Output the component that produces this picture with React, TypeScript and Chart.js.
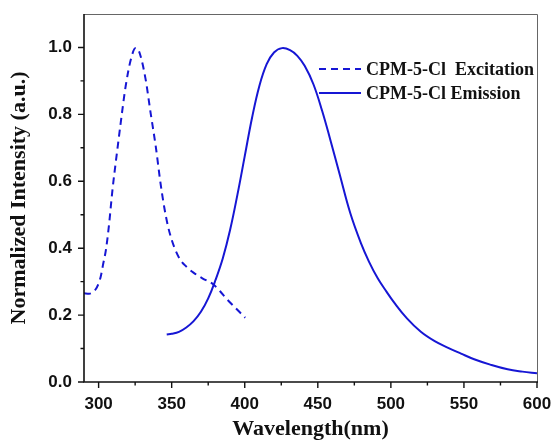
import React, { useEffect, useRef } from 'react';
import { Chart, registerables } from 'chart.js';

Chart.register(...registerables);

const excitationWavelength = [290, 293.5, 296, 298, 300, 301.5, 303, 305, 307, 309.5, 312.8, 315.1, 318.5, 322, 325.3, 326.5, 328.8, 332.2, 335.6, 339.1, 342.5, 345, 347.5, 350, 352.5, 355.8, 360, 364.9, 371, 378.4, 383, 387.7, 394, 400.3];
const excitationIntensity = [0.265, 0.264, 0.268, 0.277, 0.295, 0.316, 0.35, 0.395, 0.465, 0.575, 0.694, 0.774, 0.884, 0.963, 0.998, 0.997, 0.973, 0.904, 0.804, 0.704, 0.59, 0.52, 0.465, 0.425, 0.395, 0.366, 0.345, 0.327, 0.31, 0.292, 0.272, 0.248, 0.22, 0.192];

const emissionWavelength = [346.6, 350, 355, 360, 365, 370, 375, 380, 385, 390, 395, 400, 405, 410, 415, 420, 425.5, 431, 436, 441, 447, 453, 458.5, 465, 472.2, 479.5, 485, 491, 497, 502.3, 511, 520.5, 530, 538.8, 548, 557, 568, 579.9, 590, 600];
const emissionIntensity = [0.142, 0.144, 0.15, 0.163, 0.182, 0.21, 0.25, 0.305, 0.37, 0.455, 0.56, 0.675, 0.79, 0.885, 0.95, 0.985, 0.998, 0.992, 0.975, 0.945, 0.89, 0.81, 0.725, 0.62, 0.505, 0.415, 0.36, 0.31, 0.27, 0.237, 0.19, 0.15, 0.122, 0.103, 0.085, 0.068, 0.052, 0.038, 0.031, 0.026];

const seriesLabels = ['CPM-5-Cl  Excitation', 'CPM-5-Cl Emission'];
const xTickValues = [300, 350, 400, 450, 500, 550, 600];
const xMinorTicks = [325, 375, 425, 475, 525, 575];
const yTickValues = [0, 0.2, 0.4, 0.6, 0.8, 1.0];
const yMinorTicks = [0.1, 0.3, 0.5, 0.7, 0.9];
const xTitle = 'Wavelength(nm)';
const yTitle = 'Normalized Intensity (a.u.)';

const LINE_COLOR = '#1616d4';

const framePlugin = {
  id: 'frameAndLegend',
  afterDraw(chart: any) {
    const { ctx, chartArea } = chart;
    const { left, right, top, bottom } = chartArea;
    const xs = chart.scales.x;
    const ys = chart.scales.y;
    ctx.save();
    ctx.strokeStyle = '#666';
    ctx.lineWidth = 1;
    ctx.beginPath();
    ctx.moveTo(left, top + 0.5);
    ctx.lineTo(right + 0.5, top + 0.5);
    ctx.lineTo(right + 0.5, bottom);
    ctx.stroke();
    ctx.strokeStyle = '#111';
    ctx.lineWidth = 1.6;
    ctx.beginPath();
    ctx.moveTo(left, top);
    ctx.lineTo(left, bottom);
    ctx.lineTo(right + 1, bottom);
    ctx.stroke();
    ctx.lineWidth = 1.4;
    ctx.beginPath();
    xTickValues.forEach((v) => {
      const px = xs.getPixelForValue(v);
      ctx.moveTo(px, bottom);
      ctx.lineTo(px, bottom + 6);
    });
    xMinorTicks.forEach((v) => {
      const px = xs.getPixelForValue(v);
      ctx.moveTo(px, bottom);
      ctx.lineTo(px, bottom + 3.5);
    });
    yTickValues.forEach((v) => {
      const py = ys.getPixelForValue(v);
      ctx.moveTo(left, py);
      ctx.lineTo(left - 6, py);
    });
    yMinorTicks.forEach((v) => {
      const py = ys.getPixelForValue(v);
      ctx.moveTo(left, py);
      ctx.lineTo(left - 3.5, py);
    });
    ctx.stroke();

    const lx0 = left + 235;
    const lx1 = left + 277;
    const tx = left + 282;
    const rows = [top + 55, top + 79];
    ctx.strokeStyle = LINE_COLOR;
    ctx.lineWidth = 2;
    chart.data.datasets.forEach((ds: any, i: number) => {
      ctx.setLineDash(ds.borderDash || []);
      ctx.beginPath();
      ctx.moveTo(lx0, rows[i]);
      ctx.lineTo(lx1, rows[i]);
      ctx.stroke();
    });
    ctx.setLineDash([]);
    ctx.fillStyle = '#111';
    ctx.font = 'bold 18px "Liberation Serif"';
    ctx.textBaseline = 'middle';
    ctx.textAlign = 'left';
    chart.data.datasets.forEach((ds: any, i: number) => {
      ctx.fillText(ds.label, tx, rows[i] + 1);
    });
    ctx.restore();
  },
};

export default function App() {
  const ref = useRef<HTMLCanvasElement>(null);
  useEffect(() => {
    if (!ref.current) return;
    const chart = new Chart(ref.current, {
      type: 'line',
      data: {
        datasets: [
          {
            label: seriesLabels[0],
            data: excitationWavelength.map((x, i) => ({ x, y: excitationIntensity[i] })),
            borderColor: LINE_COLOR,
            borderWidth: 2,
            borderDash: [7, 5],
            pointRadius: 0,
            fill: false,
            cubicInterpolationMode: 'monotone',
          },
          {
            label: seriesLabels[1],
            data: emissionWavelength.map((x, i) => ({ x, y: emissionIntensity[i] })),
            borderColor: LINE_COLOR,
            borderWidth: 2,
            pointRadius: 0,
            fill: false,
            tension: 0.4,
          },
        ],
      },
      options: {
        animation: false,
        responsive: false,
        layout: { padding: { left: 0, top: 14, right: 20, bottom: 0 } },
        plugins: { legend: { display: false }, tooltip: { enabled: false } },
        scales: {
          x: {
            type: 'linear',
            min: 290,
            max: 600,
            grid: { display: false, drawTicks: false },
            border: { display: false },
            afterBuildTicks: (s: any) => {
              s.ticks = xTickValues.map((value) => ({ value }));
            },
            afterFit: (s: any) => {
              s.height = 61;
              s.paddingLeft = 0;
              s.paddingRight = 0;
            },
            ticks: {
              padding: 12,
              color: '#111',
              maxRotation: 0,
              autoSkip: false,
              font: { family: '"Liberation Sans"', size: 17, weight: 'bold' },
              callback: (v: any) => String(v),
            },
            title: {
              display: true,
              text: xTitle,
              color: '#111',
              padding: { top: 0, bottom: 0 },
              font: { family: '"Liberation Serif"', size: 22, weight: 'bold' },
            },
          },
          y: {
            type: 'linear',
            min: 0,
            max: 1.1,
            grid: { display: false, drawTicks: false },
            border: { display: false },
            afterBuildTicks: (s: any) => {
              s.ticks = yTickValues.map((value) => ({ value }));
            },
            afterFit: (s: any) => {
              s.width = 84;
              s.paddingTop = 0;
              s.paddingBottom = 0;
            },
            ticks: {
              padding: 12,
              color: '#111',
              autoSkip: false,
              font: { family: '"Liberation Sans"', size: 17, weight: 'bold' },
              callback: (v: any) => Number(v).toFixed(1),
            },
            title: {
              display: true,
              text: yTitle,
              color: '#111',
              padding: { top: 6, bottom: 0 },
              font: { family: '"Liberation Serif"', size: 22, weight: 'bold' },
            },
          },
        },
      },
      plugins: [framePlugin],
    } as any);
    return () => chart.destroy();
  }, []);
  return (
    <div style={{ position: 'fixed', left: 0, top: 0, width: 557, height: 443, background: '#fff' }}>
      <canvas ref={ref} width={557} height={443} />
    </div>
  );
}
